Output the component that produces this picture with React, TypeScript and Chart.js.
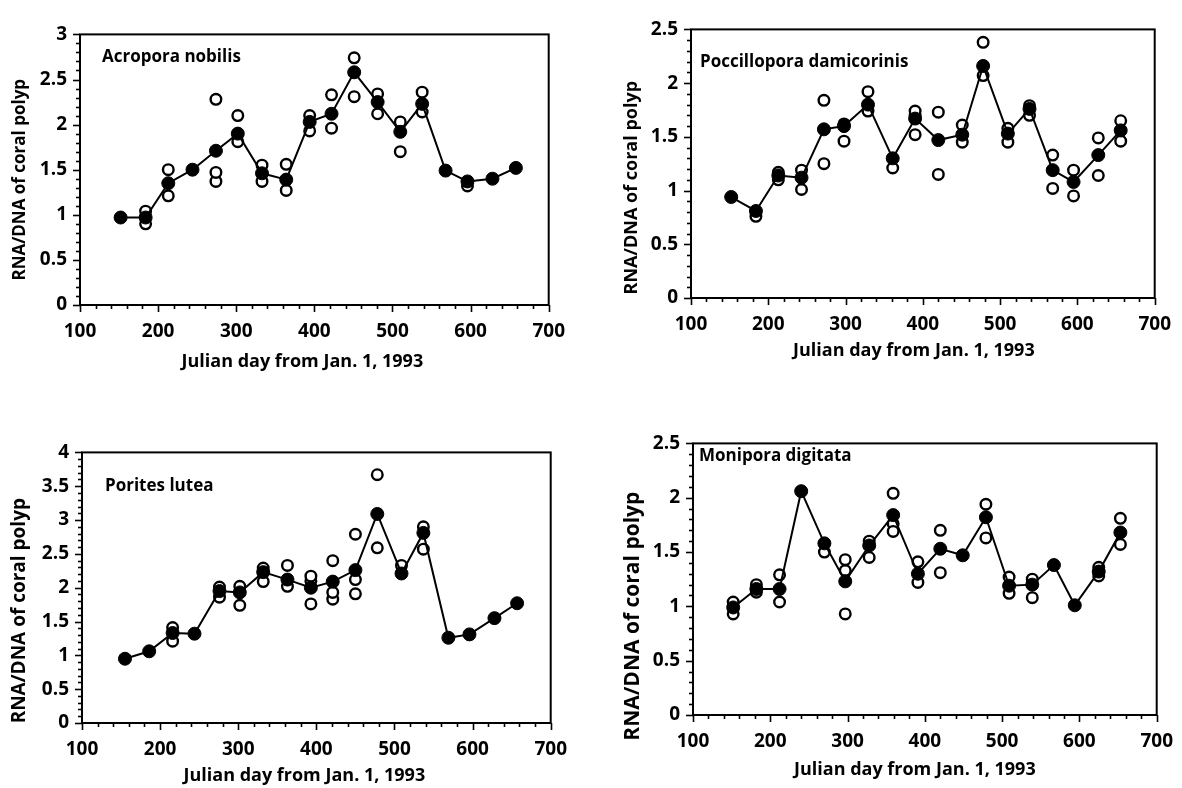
import React, { useEffect, useRef } from "react";
import { Chart, registerables } from "chart.js";

Chart.register(...registerables);

// ---------- data ----------
const xTickValues = [100, 200, 300, 400, 500, 600, 700];
const yTitleText = "RNA/DNA of coral polyp";
const xTitleText = "Julian day from Jan. 1, 1993";

// Acropora nobilis
const acroporaDays = [152, 184, 213, 244, 274, 302, 333, 364, 394, 422, 451, 481, 510, 538, 568, 596, 628, 658];
const acroporaMean = [0.97, 0.97, 1.35, 1.5, 1.71, 1.9, 1.46, 1.39, 2.03, 2.12, 2.58, 2.25, 1.92, 2.23, 1.49, 1.37, 1.4, 1.52];
const acroporaOpenA = [null, 1.04, 1.5, null, 2.28, 2.1, 1.55, 1.56, 2.1, 2.33, 2.74, 2.34, 2.03, 2.36, null, null, null, null];
const acroporaOpenB = [null, 0.9, 1.21, null, 1.47, 1.81, 1.37, 1.27, 1.93, 1.96, 2.31, 2.12, 1.7, 2.14, null, 1.32, null, null];
const acroporaOpenC = [null, null, null, null, 1.37, null, null, null, null, null, null, null, null, null, null, null, null, null];

// Poccillopora damicorinis
const pocilloporaDays = [152, 184, 213, 243, 272, 298, 329, 361, 390, 420, 451, 478, 510, 538, 568, 595, 627, 656];
const pocilloporaMean = [0.94, 0.81, 1.14, 1.12, 1.57, 1.6, 1.8, 1.3, 1.67, 1.47, 1.52, 2.16, 1.53, 1.76, 1.19, 1.08, 1.33, 1.56];
const pocilloporaOpenA = [null, 0.76, 1.17, 1.19, 1.84, 1.62, 1.92, 1.21, 1.74, 1.73, 1.61, 2.38, 1.58, 1.79, 1.33, 1.19, 1.49, 1.65];
const pocilloporaOpenB = [null, null, 1.1, 1.01, 1.25, 1.46, 1.74, null, 1.52, 1.15, 1.45, 2.07, 1.45, 1.7, 1.02, 0.95, 1.14, 1.46];
const pocilloporaOpenC = [null, null, null, null, null, null, null, null, 1.7, null, null, null, null, null, null, null, null, null];

// Porites lutea
const poritesDays = [155, 186, 216, 244, 276, 302, 332, 363, 393, 421, 450, 478, 509, 537, 569, 596, 628, 657];
const poritesMean = [0.95, 1.06, 1.33, 1.32, 1.95, 1.93, 2.23, 2.12, 2.0, 2.09, 2.26, 3.09, 2.21, 2.81, 1.26, 1.31, 1.55, 1.77];
const poritesOpenA = [null, null, 1.41, null, 2.01, 2.02, 2.29, 2.33, 2.17, 2.4, 2.79, 3.67, 2.33, 2.9, null, null, null, null];
const poritesOpenB = [null, null, 1.21, null, 1.86, 1.74, 2.09, 2.02, 1.76, 1.93, 2.12, 2.59, null, 2.57, null, null, null, null];
const poritesOpenC = [null, null, null, null, null, null, null, null, 2.1, 1.83, 1.91, null, null, null, null, null, null, null];

// Monipora digitata
const moniporaDays = [152, 182, 212, 240, 270, 297, 328, 359, 391, 420, 449, 479, 509, 539, 567, 594, 625, 653];
const moniporaMean = [0.99, 1.16, 1.16, 2.06, 1.58, 1.23, 1.56, 1.84, 1.3, 1.53, 1.47, 1.82, 1.19, 1.2, 1.38, 1.01, 1.32, 1.68];
const moniporaOpenA = [1.04, 1.2, 1.29, null, 1.5, 1.43, 1.6, 2.04, 1.41, 1.7, null, 1.94, 1.27, 1.25, null, null, 1.36, 1.81];
const moniporaOpenB = [0.93, 1.13, 1.04, null, null, 0.93, 1.45, 1.69, 1.22, 1.31, null, 1.63, 1.12, 1.08, null, null, 1.28, 1.57];
const moniporaOpenC = [null, null, null, null, null, 1.33, null, 1.76, null, null, null, null, null, null, null, null, null, null];

// ---------- layout / style ----------
const FONT = "'Open Sans', 'DejaVu Sans', sans-serif";
const ML = 80; // fixed y-axis box width
const MR = 30;
const MT = 15;
const MB = 73; // fixed x-axis box height

type Area = { l: number; t: number; r: number; b: number };
type PanelCfg = {
  name: string;
  days: number[];
  mean: number[];
  opens: (number | null)[][];
  yMax: number;
  area: Area;
  label: { dx: number; dy: number; size: number };
  yTitle: { dx: number; dy: number; size: number };
  xTitle: { dx: number; dy: number; size: number };
};

const panels: PanelCfg[] = [
  {
    name: "Acropora nobilis",
    days: acroporaDays,
    mean: acroporaMean,
    opens: [acroporaOpenA, acroporaOpenB, acroporaOpenC],
    yMax: 3,
    area: { l: 80, t: 25, r: 550, b: 305 },
    label: { dx: 22, dy: 28, size: 17 },
    yTitle: { dx: -60, dy: 10, size: 17 },
    xTitle: { dx: -12, dy: 57, size: 18 },
  },
  {
    name: "Poccillopora damicorinis",
    days: pocilloporaDays,
    mean: pocilloporaMean,
    opens: [pocilloporaOpenA, pocilloporaOpenB, pocilloporaOpenC],
    yMax: 2.5,
    area: { l: 691, t: 20, r: 1156, b: 298 },
    label: { dx: 9, dy: 38, size: 17 },
    yTitle: { dx: -59, dy: 24, size: 18 },
    xTitle: { dx: -9, dy: 53, size: 18 },
  },
  {
    name: "Porites lutea",
    days: poritesDays,
    mean: poritesMean,
    opens: [poritesOpenA, poritesOpenB, poritesOpenC],
    yMax: 4,
    area: { l: 82, t: 443, r: 552, b: 723 },
    label: { dx: 23, dy: 39, size: 17 },
    yTitle: { dx: -62, dy: 23, size: 19 },
    xTitle: { dx: -12, dy: 53, size: 18 },
  },
  {
    name: "Monipora digitata",
    days: moniporaDays,
    mean: moniporaMean,
    opens: [moniporaOpenA, moniporaOpenB, moniporaOpenC],
    yMax: 2.5,
    area: { l: 693, t: 434, r: 1158, b: 715 },
    label: { dx: 6, dy: 18, size: 17 },
    yTitle: { dx: -60, dy: 37, size: 21 },
    xTitle: { dx: -10, dy: 55, size: 18 },
  },
];

function makeDecorPlugin(cfg: PanelCfg) {
  return {
    id: "decor",
    afterDraw(chart: any) {
      const ctx = chart.ctx as CanvasRenderingContext2D;
      const { left, right, top, bottom } = chart.chartArea;
      const xs = chart.scales.x;
      const ys = chart.scales.y;
      ctx.save();
      ctx.strokeStyle = "#000";
      ctx.fillStyle = "#000";
      // frame
      ctx.lineWidth = 2;
      ctx.strokeRect(left, top, right - left, bottom - top);
      // y ticks (major every 0.5, minor every 0.1)
      ctx.lineWidth = 1.6;
      const yStep = 0.5;
      for (let i = 0; i <= Math.round((cfg.yMax / yStep) * 5); i++) {
        const v = (i * yStep) / 5;
        const py = Math.round(ys.getPixelForValue(v)) + 0.5;
        const len = i % 5 === 0 ? 7 : 4;
        ctx.beginPath();
        ctx.moveTo(left - len, py);
        ctx.lineTo(left, py);
        ctx.stroke();
      }
      // x ticks (major every 100, minor every 20)
      for (let v = 100; v <= 700; v += 20) {
        const px = Math.round(xs.getPixelForValue(v)) + 0.5;
        const len = v % 100 === 0 ? 7 : 4;
        ctx.beginPath();
        ctx.moveTo(px, bottom);
        ctx.lineTo(px, bottom + len);
        ctx.stroke();
      }
      // panel label
      ctx.font = `bold ${cfg.label.size}px ${FONT}`;
      ctx.textAlign = "left";
      ctx.textBaseline = "alphabetic";
      ctx.fillText(cfg.name, left + cfg.label.dx, top + cfg.label.dy);
      // x title
      ctx.font = `bold ${cfg.xTitle.size}px ${FONT}`;
      ctx.textAlign = "center";
      ctx.textBaseline = "middle";
      ctx.fillText(xTitleText, (left + right) / 2 + cfg.xTitle.dx, bottom + cfg.xTitle.dy);
      // y title
      ctx.font = `bold ${cfg.yTitle.size}px ${FONT}`;
      ctx.translate(left + cfg.yTitle.dx, (top + bottom) / 2 + cfg.yTitle.dy);
      ctx.rotate(-Math.PI / 2);
      ctx.fillText(yTitleText, 0, 0);
      ctx.restore();
    },
  };
}

function Panel({ cfg }: { cfg: PanelCfg }) {
  const ref = useRef<HTMLCanvasElement | null>(null);
  const w = cfg.area.r - cfg.area.l + ML + MR;
  const h = cfg.area.b - cfg.area.t + MT + MB;

  useEffect(() => {
    if (!ref.current) return;
    const meanData = cfg.days.map((d, i) => ({ x: d, y: cfg.mean[i] }));
    const openSets = cfg.opens.map((arr) => ({
      label: "replicate",
      data: cfg.days
        .map((d, i) => (arr[i] == null ? null : { x: d, y: arr[i] as number }))
        .filter((p) => p !== null),
      showLine: false,
      pointRadius: 5.3,
      pointBorderWidth: 2.4,
      pointBackgroundColor: "#fff",
      pointBorderColor: "#000",
      order: 1,
    }));
    const tickFont = { family: FONT, size: 19, weight: "bold" as const };
    const chart = new Chart(ref.current, {
      type: "scatter",
      data: {
        datasets: [
          {
            label: "mean",
            data: meanData,
            showLine: true,
            borderColor: "#000",
            borderWidth: 2,
            pointRadius: 6.5,
            pointBorderWidth: 1,
            pointBackgroundColor: "#000",
            pointBorderColor: "#000",
            order: 0,
          },
          ...openSets,
        ] as any,
      },
      options: {
        responsive: false,
        animation: false,
        devicePixelRatio: 1,
        layout: { padding: { top: MT, right: MR, left: 0, bottom: 0 } },
        plugins: { legend: { display: false }, tooltip: { enabled: false } },
        scales: {
          x: {
            type: "linear",
            min: 100,
            max: 700,
            afterBuildTicks: (s: any) => {
              s.ticks = xTickValues.map((v) => ({ value: v }));
            },
            afterFit: (s: any) => {
              s.height = MB;
            },
            grid: { display: false, drawTicks: false },
            border: { display: false },
            ticks: { padding: 15, color: "#000", font: tickFont, maxRotation: 0 },
          },
          y: {
            type: "linear",
            min: 0,
            max: cfg.yMax,
            afterFit: (s: any) => {
              s.width = ML;
            },
            grid: { display: false, drawTicks: false },
            border: { display: false },
            ticks: {
              stepSize: 0.5,
              padding: 13,
              color: "#000",
              font: tickFont,
              callback: (v: any) => String(Math.round(Number(v) * 10) / 10),
            },
          },
        },
      } as any,
      plugins: [makeDecorPlugin(cfg)],
    });
    return () => chart.destroy();
  }, [cfg]);

  return (
    <canvas
      ref={ref}
      width={w}
      height={h}
      style={{
        position: "absolute",
        left: cfg.area.l - ML,
        top: cfg.area.t - MT,
        width: w,
        height: h,
      }}
    />
  );
}

export default function App() {
  return (
    <div
      style={{
        position: "absolute",
        left: 0,
        top: 0,
        width: 1182,
        height: 788,
        overflow: "hidden",
        background: "#fff",
      }}
    >
      {panels.map((p) => (
        <Panel key={p.name} cfg={p} />
      ))}
    </div>
  );
}
